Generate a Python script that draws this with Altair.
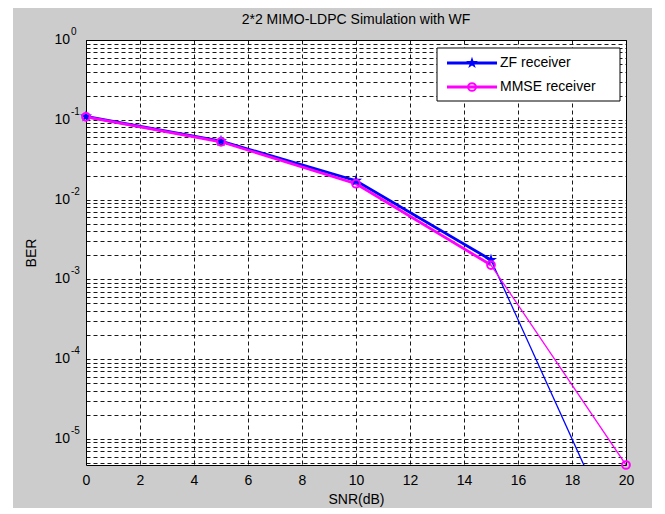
import altair as alt
import pandas as pd

# ---------------- data ----------------
snr = [0, 5, 10, 15, 20]
ber_zf = [0.110, 0.054, 0.0172, 0.00175, 3.2e-7]
ber_mmse = [0.109, 0.053, 0.0158, 0.00151, 4.7e-6]
receivers = ["ZF receiver", "MMSE receiver"]
colors = ["#0000ff", "#ff00ff"]
x_ticks = list(range(0, 21, 2))
decades = [0, -1, -2, -3, -4, -5]
title_text = "2*2 MIMO-LDPC Simulation with WF"

Y_MIN = 4.7e-6
W, H = 540, 425
FONT = "Liberation Sans"
STAR = ("M0,-1L0.2234,-0.3074L0.951,-0.309L0.3614,0.1174L0.588,0.809L0,0.38"
        "L-0.588,0.809L-0.3614,0.1174L-0.951,-0.309L-0.2234,-0.3074Z")

df = pd.DataFrame({
    "snr": snr * 2,
    "ber": ber_zf + ber_mmse,
    "receiver": [receivers[0]] * len(snr) + [receivers[1]] * len(snr),
})

minor = [m * 10.0 ** d for d in range(-6, 1) for m in range(1, 10)]
minor = [float("%.6g" % v) for v in minor if Y_MIN <= v <= 1.0 + 1e-12]

dec_df = pd.DataFrame({
    "ber": [10.0 ** d for d in decades],
    "base": ["10"] * len(decades),
    "exp": [str(d) for d in decades],
})

xs = alt.Scale(domain=[0, 20], nice=False, zero=False)
ys = alt.Scale(type="log", domain=[Y_MIN, 1], nice=False)

X = alt.X("snr:Q", scale=xs,
          axis=alt.Axis(values=x_ticks, grid=True, ticks=False, domain=False,
                        title="SNR(dB)", labelPadding=8, titlePadding=5,
                        labelFlush=False))
Y = alt.Y("ber:Q", scale=ys,
          axis=alt.Axis(values=minor, grid=True, labels=False, ticks=False,
                        domain=False, title="BER", titlePadding=48))

one = pd.DataFrame({"k": [0]})
layers = []

# data lines
for r, c in zip(receivers, colors):
    base = alt.Chart(df).transform_filter(alt.datum.receiver == r)
    layers.append(base.transform_filter(alt.datum.snr <= 15)
                  .mark_line(color=c, strokeWidth=2.8, clip=True)
                  .encode(x=X, y=Y))
    layers.append(base.transform_filter(alt.datum.snr >= 15)
                  .mark_line(color=c, strokeWidth=1.3, clip=True)
                  .encode(x=X, y=Y))

# markers
layers.append(alt.Chart(df)
              .transform_filter(alt.datum.receiver == receivers[0])
              .transform_filter(alt.datum.snr <= 15)
              .mark_point(shape=STAR, filled=True, color=colors[0], size=160, opacity=1)
              .encode(x=X, y=Y))
layers.append(alt.Chart(df)
              .transform_filter(alt.datum.receiver == receivers[1])
              .mark_point(shape="circle", filled=False, color=colors[1], size=60,
                          strokeWidth=2, opacity=1)
              .encode(x=X, y=Y))

# y tick labels 10^k
layers.append(alt.Chart(dec_df).mark_text(align="right", baseline="middle", fontSize=14,
                                          font=FONT, color="black")
              .encode(x=alt.value(-16), y=Y, text="base:N"))
layers.append(alt.Chart(dec_df).mark_text(align="left", baseline="middle", fontSize=10,
                                          font=FONT, color="black", dy=-8)
              .encode(x=alt.value(-15), y=Y, text="exp:N"))

# legend box
layers.append(alt.Chart(one).mark_rect(fill="white", stroke="black", strokeWidth=1).encode(
    x=alt.value(351), x2=alt.value(534), y=alt.value(8), y2=alt.value(61)))
shapes = [dict(shape=STAR, filled=True, size=160, strokeWidth=1),
          dict(shape="circle", filled=False, size=60, strokeWidth=2)]
for i, (r, c) in enumerate(zip(receivers, colors)):
    yy = 23 + 24 * i
    lab = pd.DataFrame({"label": [r]})
    layers.append(alt.Chart(lab).mark_rule(color=c, strokeWidth=2.8).encode(
        x=alt.value(361), x2=alt.value(411), y=alt.value(yy)))
    layers.append(alt.Chart(lab).mark_point(color=c, opacity=1, **shapes[i]).encode(
        x=alt.value(386), y=alt.value(yy)))
    layers.append(alt.Chart(lab).mark_text(align="left", baseline="middle", fontSize=14,
                                           font=FONT, color="black").encode(
        x=alt.value(414), y=alt.value(yy), text="label:N"))

# chart title (as text so that it does not shift the plot)
layers.append(alt.Chart(pd.DataFrame({"t": [title_text]})).mark_text(
    align="center", baseline="middle", fontSize=14, font=FONT, color="black").encode(
    x=alt.value(W / 2), y=alt.value(-20), text="t:N"))

# white outer margins (figure window border); they also fix the canvas bounds
for (x1, x2, y1, y2) in [(-86, -73, -40, 474), (566, 579, -40, 474),
                         (-86, 579, -40, -32), (-86, 579, 468, 474)]:
    layers.append(alt.Chart(one).mark_rect(color="white").encode(
        x=alt.value(x1), x2=alt.value(x2), y=alt.value(y1), y2=alt.value(y2)))

chart = alt.layer(*layers).properties(
    width=W, height=H,
    padding=0,
    background="#cccccc",
).configure_view(
    fill="white", stroke="black", strokeWidth=1
).configure_axis(
    labelFont=FONT, titleFont=FONT, labelFontSize=14, titleFontSize=14,
    labelColor="black", titleColor="black", titleFontWeight="normal",
    gridColor="black", gridDash=[4, 3], gridWidth=1, gridOpacity=0.9,
)

chart.save("out.html", embed_options={"renderer": "svg", "actions": False})
